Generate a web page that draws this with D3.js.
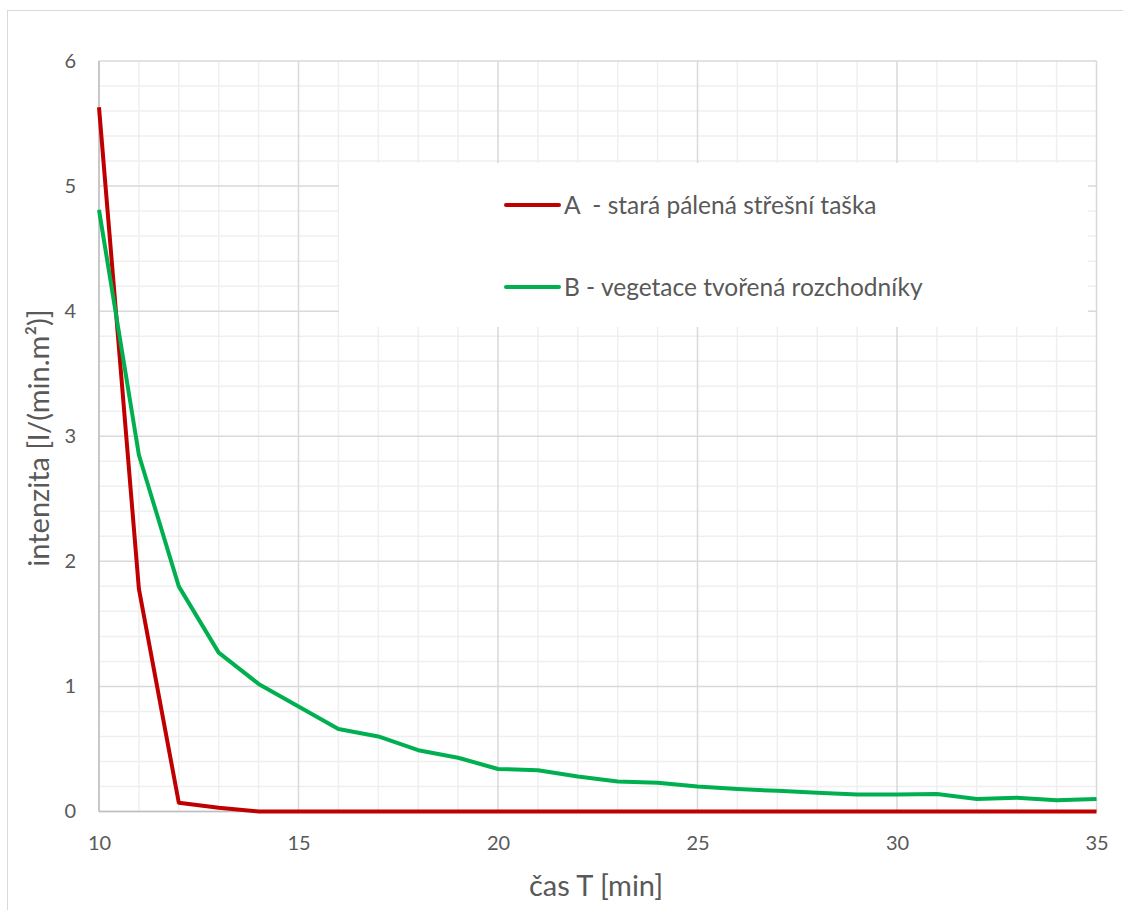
<!DOCTYPE html>
<html>
<head>
<meta charset="utf-8">
<script src="https://cdn.jsdelivr.net/npm/d3@7"></script>
<style>
  html, body { margin: 0; padding: 0; background: #fff; }
  svg { display: block; font-family: Lato, "Open Sans", sans-serif; }
</style>
</head>
<body>
<svg id="chart" width="1123" height="910"></svg>
<script>
const time = [10,11,12,13,14,15,16,17,18,19,20,21,22,23,24,25,26,27,28,29,30,31,32,33,34,35];
const seriesA = [5.63,1.78,0.07,0.03,0,0,0,0,0,0,0,0,0,0,0,0,0,0,0,0,0,0,0,0,0,0];
const seriesB = [4.81,2.85,1.80,1.27,1.02,0.84,0.66,0.60,0.49,0.43,0.34,0.33,0.28,0.24,0.23,0.20,0.18,0.165,0.15,0.135,0.135,0.14,0.10,0.11,0.09,0.10];
const seriesNames = ["A  - stará pálená střešní taška", "B - vegetace tvořená rozchodníky"];
const seriesColors = ["#C00000", "#00B050"];
const xTicks = [10,15,20,25,30,35];
const yTicks = [0,1,2,3,4,5,6];
const xTitle = "čas T [min]";
const yTitle = "intenzita [l/(min.m²)]";

const svg = d3.select("#chart");

// outer chart border
svg.append("rect").attr("x", 7.5).attr("y", 10.5).attr("width", 1140).attr("height", 940)
  .attr("fill", "#fff").attr("stroke", "#d9d9d9").attr("stroke-width", 1);

const pL = 99, pR = 1096.5, pT = 61, pB = 811.5;
const x = d3.scaleLinear().domain([10, 35]).range([pL, pR]);
const y = d3.scaleLinear().domain([0, 6]).range([pB, pT]);

const g = svg.append("g");

// minor gridlines
const xMinor = d3.range(10, 36, 1).filter(v => v % 5 !== 0);
const yMinor = d3.range(0, 30, 1).map(v => v / 5).filter(v => Math.abs(v - Math.round(v)) > 1e-6);
g.selectAll(".xminor").data(xMinor).join("line")
  .attr("x1", d => x(d)).attr("x2", d => x(d))
  .attr("y1", pT).attr("y2", pB).attr("stroke", "#efefef").attr("stroke-width", 1.5);
g.selectAll(".yminor").data(yMinor).join("line")
  .attr("x1", pL).attr("x2", pR)
  .attr("y1", d => y(d)).attr("y2", d => y(d))
  .attr("stroke", "#efefef").attr("stroke-width", 1.5);
// major gridlines
g.selectAll(".xmajor").data(xTicks).join("line")
  .attr("x1", d => x(d)).attr("x2", d => x(d))
  .attr("y1", pT).attr("y2", pB).attr("stroke", "#d9d9d9").attr("stroke-width", 1.5);
g.selectAll(".ymajor").data(yTicks).join("line")
  .attr("x1", pL).attr("x2", pR)
  .attr("y1", d => y(d)).attr("y2", d => y(d))
  .attr("stroke", "#d9d9d9").attr("stroke-width", 1.5);
// axis lines
g.append("line").attr("x1", pL).attr("x2", pL).attr("y1", pT).attr("y2", pB)
  .attr("stroke", "#bfbfbf").attr("stroke-width", 1.5);
g.append("line").attr("x1", pL).attr("x2", pR).attr("y1", pB).attr("y2", pB)
  .attr("stroke", "#bfbfbf").attr("stroke-width", 1.5);

// axes labels via d3 axes
const xAxis = d3.axisBottom(x).tickValues(xTicks).tickFormat(d3.format("d")).tickSize(0).tickPadding(24);
svg.append("g").attr("transform", `translate(0,${pB})`).call(xAxis)
  .call(a => a.select(".domain").remove())
  .selectAll("text").attr("font-size", 20).attr("fill", "#595959").attr("font-family", "Lato");
const yAxis = d3.axisLeft(y).tickValues(yTicks).tickFormat(d3.format("d")).tickSize(0).tickPadding(23);
svg.append("g").attr("transform", `translate(${pL},0)`).call(yAxis)
  .call(a => a.select(".domain").remove())
  .selectAll("text").attr("font-size", 20).attr("fill", "#595959").attr("font-family", "Lato");

// legend background (covers gridlines)
const legend = svg.append("g");
legend.append("rect").attr("x", 339).attr("y", 163).attr("width", 749).attr("height", 164).attr("fill", "#fff");

// lines
const lineGen = d3.line().x((d, i) => x(time[i])).y(d => y(d));
[seriesA, seriesB].forEach((s, i) => {
  svg.append("path").datum(s).attr("d", lineGen)
    .attr("fill", "none").attr("stroke", seriesColors[i]).attr("stroke-width", 4)
    .attr("stroke-linejoin", "round");
});

// legend entries
const legY = [205, 287];
seriesNames.forEach((n, i) => {
  legend.append("line").attr("x1", 506).attr("x2", 559).attr("y1", legY[i]).attr("y2", legY[i])
    .attr("stroke", seriesColors[i]).attr("stroke-width", 4).attr("stroke-linecap", "round");
  legend.append("text").attr("x", 564).attr("y", legY[i]).attr("dy", "0.35em")
    .style("white-space", "pre")
    .attr("font-size", 24.5).attr("fill", "#595959").text(n);
});

// axis titles
svg.append("text").attr("x", 596).attr("y", 886).attr("dy", "0.35em").attr("text-anchor", "middle")
  .attr("font-size", 29).attr("fill", "#595959").text(xTitle);
svg.append("text").attr("transform", `translate(39,438) rotate(-90)`).attr("dy", "0.35em")
  .attr("text-anchor", "middle").attr("font-size", 29).attr("fill", "#595959").text(yTitle);
</script>
</body>
</html>
